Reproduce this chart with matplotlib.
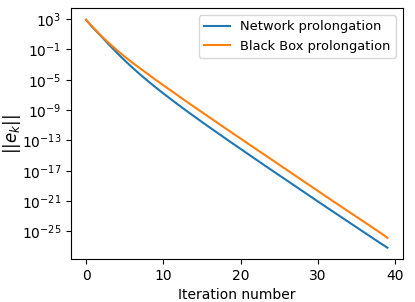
import numpy as np
import matplotlib

matplotlib.use("Agg")
import matplotlib.pyplot as plt

# log10 of the error norm
iterations = np.arange(40)
network_log = [2.9, 1.75, 0.7, -0.4, -1.45, -2.45, -3.4, -4.3, -5.17, -6.0,
               -6.8, -7.58, -8.35, -9.1, -9.84, -10.57, -11.29, -12.0, -12.71, -13.42,
               -14.12, -14.82, -15.52, -16.22, -16.91, -17.6, -18.29, -18.98, -19.67, -20.36,
               -21.05, -21.74, -22.42, -23.1, -23.78, -24.46, -25.14, -25.82, -26.5, -27.15]
blackbox_log = [2.9, 1.8, 0.75, -0.2, -1.1, -1.95, -2.75, -3.5, -4.25, -5.0,
                -5.72, -6.44, -7.16, -7.87, -8.58, -9.28, -9.98, -10.68, -11.38, -12.07,
                -12.76, -13.45, -14.14, -14.83, -15.52, -16.21, -16.9, -17.59, -18.28, -18.97,
                -19.66, -20.35, -21.04, -21.72, -22.4, -23.08, -23.76, -24.44, -25.12, -25.85]

fig = plt.figure(figsize=(4.15, 3.02), dpi=100)
ax = fig.add_axes([0.171, 0.142, 0.799, 0.830])
ax.semilogy(iterations, 10.0 ** np.array(network_log), label="Network prolongation")
ax.semilogy(iterations, 10.0 ** np.array(blackbox_log), label="Black Box prolongation")
ax.set_yticks([10.0 ** p for p in range(3, -27, -4)])
ax.minorticks_off()
ax.set_xlabel("Iteration number")
ax.set_ylabel(r"$||e_k||$", fontsize=12)
ax.yaxis.set_label_coords(-0.146, 0.5)
ax.legend(loc="upper right", fontsize=9.4)
fig.savefig("out.png")
